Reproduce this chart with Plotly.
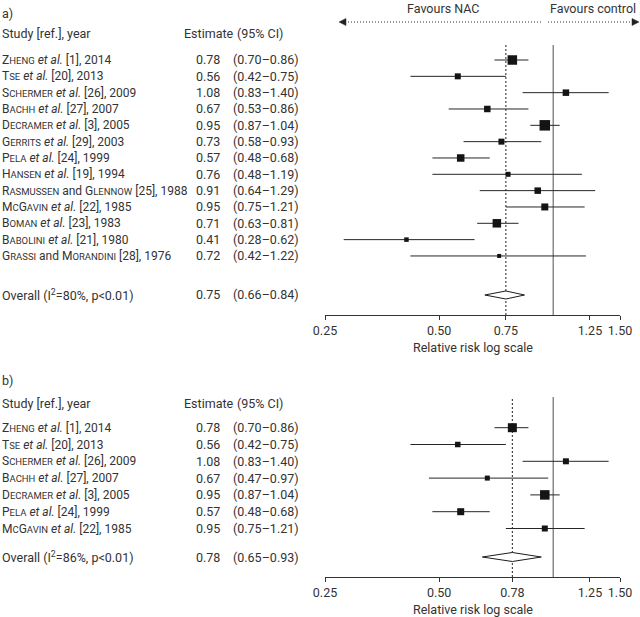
import math
import plotly.graph_objects as go

# ---------------- data: panel a ----------------
authors_a = ["Zheng", "Tse", "Schermer", "Bachh", "Decramer", "Gerrits", "Pela", "Hansen",
             "Rasmussen and Glennow", "McGavin", "Boman", "Babolini", "Grassi and Morandini"]
refs_a = [1, 20, 26, 27, 3, 29, 24, 19, 25, 22, 23, 21, 28]
years_a = [2014, 2013, 2009, 2007, 2005, 2003, 1999, 1994, 1988, 1985, 1983, 1980, 1976]
est_a = [0.78, 0.56, 1.08, 0.67, 0.95, 0.73, 0.57, 0.76, 0.91, 0.95, 0.71, 0.41, 0.72]
lo_a = [0.70, 0.42, 0.83, 0.53, 0.87, 0.58, 0.48, 0.48, 0.64, 0.75, 0.63, 0.28, 0.42]
hi_a = [0.86, 0.75, 1.40, 0.86, 1.04, 0.93, 0.68, 1.19, 1.29, 1.21, 0.81, 0.62, 1.22]
overall_a = [0.75, 0.66, 0.84]
i2_a = 80
ticks_a = [0.25, 0.50, 0.75, 1.25, 1.50]

# ---------------- data: panel b ----------------
authors_b = ["Zheng", "Tse", "Schermer", "Bachh", "Decramer", "Pela", "McGavin"]
refs_b = [1, 20, 26, 27, 3, 24, 22]
years_b = [2014, 2013, 2009, 2007, 2005, 1999, 1985]
est_b = [0.78, 0.56, 1.08, 0.67, 0.95, 0.57, 0.95]
lo_b = [0.70, 0.42, 0.83, 0.47, 0.87, 0.48, 0.75]
hi_b = [0.86, 0.75, 1.40, 0.97, 1.04, 0.68, 1.21]
overall_b = [0.78, 0.65, 0.93]
i2_b = 86
ticks_b = [0.25, 0.50, 0.78, 1.25, 1.50]

# box sizes (style, px) reflecting study weights
box_a = [9.5, 6, 6.5, 6.5, 10.5, 6, 7.5, 5, 6.5, 7, 8.5, 4.5, 4]
box_b = [9, 5.5, 6, 5, 9.5, 7, 6]

W, H = 640, 617
FONT = "Roboto"
TXT = "#333333"
FS = 12.5
FS_STUDY = 12


def P(py):
    return 1 - py / H


def X(px):
    return px / W


def smallcaps(word, small=9.5):
    out, i = "", 0
    while i < len(word):
        c = word[i]
        if c.islower():
            j = i
            while j < len(word) and word[j].islower():
                j += 1
            out += "<span style='font-size:%spx'>%s</span>" % (small, word[i:j].upper())
            i = j
        else:
            out += c
            i += 1
    return out


def study_label(author, ref, year):
    if " and " in author:
        a, b = author.split(" and ")
        name = smallcaps(a) + " and " + smallcaps(b)
    else:
        name = smallcaps(author) + " <i>et al.</i>"
    return "%s [%d], %d" % (name, ref, year)


fig = go.Figure()
annotations = []
shapes = []


def txt(x, y, yref, text, anchor="left", size=FS):
    annotations.append(dict(x=x, xref="paper", y=y, yref=yref, xanchor=anchor, yanchor="middle",
                            text=text, showarrow=False, borderpad=0,
                            font=dict(family=FONT, size=size, color=TXT)))


def panel(suffix, authors, refs, years, est, lo, hi, overall, i2, ticks, boxes,
          row0_px, step_px, top_px, axis_px, overall_px, letter, letter_px, header_px,
          title_px, diamond_half_px):
    xa = "x" + suffix
    ya = "y" + suffix
    n = len(est)
    rows = list(range(n))
    ov_row = (overall_px - row0_px) / step_px

    # CI lines
    xs, ys = [], []
    for r, l, h in zip(rows, lo, hi):
        xs += [l, h, None]
        ys += [r, r, None]
    fig.add_trace(go.Scatter(x=xs, y=ys, mode="lines", xaxis=xa, yaxis=ya,
                             line=dict(color="#262626", width=1), hoverinfo="skip",
                             showlegend=False))
    # boxes
    fig.add_trace(go.Scatter(x=est, y=rows, mode="markers", xaxis=xa, yaxis=ya,
                             marker=dict(symbol="square", size=boxes, color="#141414", opacity=1,
                                         line=dict(width=0)),
                             showlegend=False))
    # diamond
    dh = diamond_half_px / step_px
    e, l, h = overall
    fig.add_trace(go.Scatter(x=[l, e, h, e, l], y=[ov_row, ov_row - dh, ov_row, ov_row + dh, ov_row],
                             mode="lines", fill="toself", fillcolor="white", xaxis=xa, yaxis=ya,
                             line=dict(color="#1c1c1c", width=1), showlegend=False))

    # texts per row
    for r in rows:
        txt(X(1), r, ya, study_label(authors[r], refs[r], years[r]), size=FS_STUDY)
        txt(X(221), r, ya, "%.2f" % est[r], "right")
        txt(X(232), r, ya, "(%.2f–%.2f)" % (lo[r], hi[r]))
    txt(X(1), ov_row, ya, "Overall (I<sup>2</sup>=%d%%, p&lt;0.01)" % i2)
    txt(X(221), ov_row, ya, "%.2f" % e, "right")
    txt(X(232), ov_row, ya, "(%.2f–%.2f)" % (l, h))
    # headers
    txt(X(1), P(letter_px), "paper", letter)
    txt(X(1), P(header_px), "paper", "Study [ref.], year")
    txt(X(183), P(header_px), "paper", "Estimate")
    txt(X(236), P(header_px), "paper", "(95% CI)")
    # axis title
    txt(X(472.5), P(title_px), "paper", "Relative risk log scale", "center")

    # vertical lines
    shapes.append(dict(type="line", xref=xa, x0=1, x1=1, yref=ya + " domain", y0=0, y1=1,
                       line=dict(color="#8a8a8a", width=1.5), layer="below"))
    shapes.append(dict(type="line", xref=xa, x0=e, x1=e, yref=ya + " domain", y0=0, y1=1,
                       line=dict(color="#222222", width=1, dash="2px,2px"), layer="below"))

    r_bottom = (axis_px - row0_px) / step_px
    r_top = (top_px - row0_px) / step_px
    axkey = "xaxis" + suffix
    aykey = "yaxis" + suffix
    fig.update_layout(**{
        axkey: dict(domain=[X(325), X(620)], type="log",
                    range=[math.log10(0.25), math.log10(1.5)],
                    tickvals=ticks, ticktext=["%.2f" % t for t in ticks],
                    ticks="outside", ticklen=4, tickcolor="#333", tickwidth=1,
                    showline=True, linecolor="#333", linewidth=1,
                    showgrid=False, zeroline=False, anchor=ya, automargin=False,
                    tickfont=dict(family=FONT, size=FS, color=TXT), fixedrange=True),
        aykey: dict(domain=[P(axis_px), P(top_px)], range=[r_bottom, r_top],
                    visible=False, showgrid=False, zeroline=False, anchor=xa, fixedrange=True),
    })


panel("", authors_a, refs_a, years_a, est_a, lo_a, hi_a, overall_a, i2_a, ticks_a, box_a,
      row0_px=60, step_px=16.33, top_px=45, axis_px=315, overall_px=295,
      letter="a)", letter_px=13, header_px=34, title_px=348, diamond_half_px=4)
panel("2", authors_b, refs_b, years_b, est_b, lo_b, hi_b, overall_b, i2_b, ticks_b, box_b,
      row0_px=427.7, step_px=16.8, top_px=397, axis_px=577, overall_px=557,
      letter="b)", letter_px=380, header_px=403, title_px=609, diamond_half_px=4.5)

# Favours arrows
txt(X(443), P(8), "paper", "Favours NAC", "center")
txt(X(549), P(8), "paper", "Favours control")
ay = 22
shapes.append(dict(type="line", xref="paper", yref="paper", x0=X(345), x1=X(543), y0=P(ay), y1=P(ay),
                   line=dict(color="#333", width=1, dash="1px,2px")))
shapes.append(dict(type="line", xref="paper", yref="paper", x0=X(548), x1=X(633), y0=P(ay), y1=P(ay),
                   line=dict(color="#333", width=1, dash="1px,2px")))
shapes.append(dict(type="path", xref="paper", yref="paper",
                   path="M %f,%f L %f,%f L %f,%f Z" % (X(339), P(ay), X(346), P(ay - 3.5), X(346), P(ay + 3.5)),
                   fillcolor="#222", line=dict(color="#222", width=0.5)))
shapes.append(dict(type="path", xref="paper", yref="paper",
                   path="M %f,%f L %f,%f L %f,%f Z" % (X(639), P(ay), X(632), P(ay - 3.5), X(632), P(ay + 3.5)),
                   fillcolor="#222", line=dict(color="#222", width=0.5)))

fig.update_layout(width=W, height=H, margin=dict(l=0, r=0, t=0, b=0),
                  paper_bgcolor="white", plot_bgcolor="white", showlegend=False,
                  annotations=annotations, shapes=shapes, hovermode=False,
                  font=dict(family=FONT, size=FS, color=TXT))

fig.write_html("out.html", config={"displayModeBar": False, "staticPlot": True},
               post_script="document.body.style.margin='0';document.body.style.overflow='hidden';")
